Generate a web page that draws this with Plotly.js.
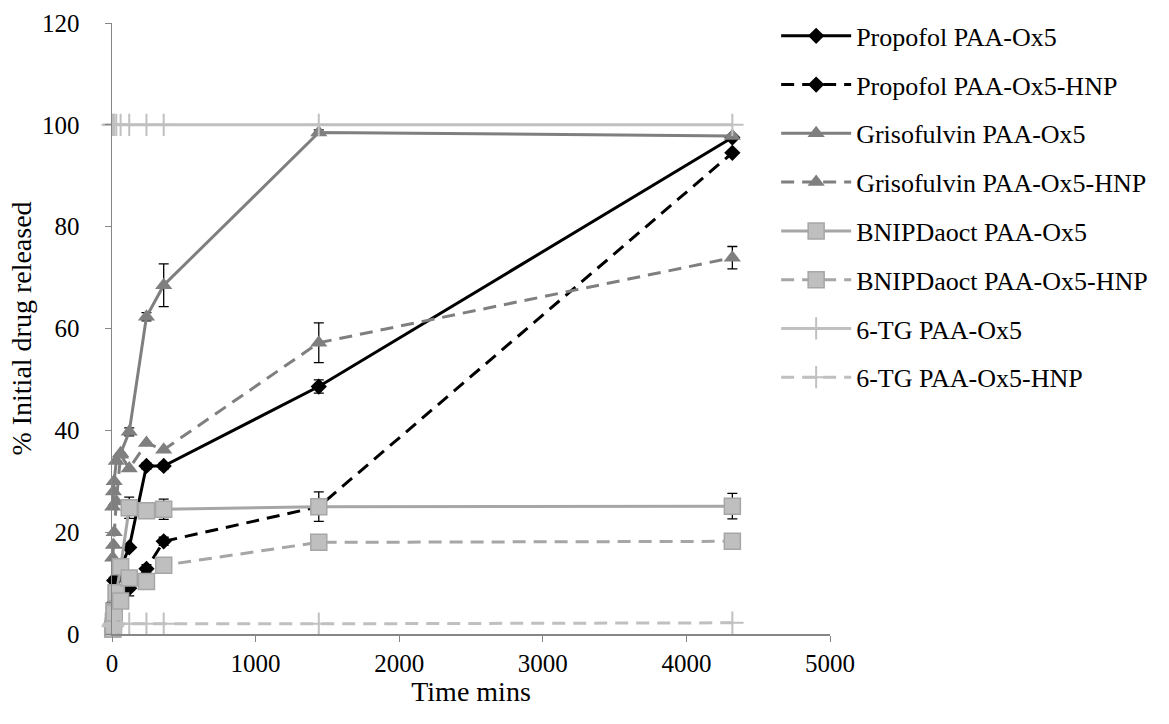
<!DOCTYPE html>
<html><head><meta charset="utf-8">
<script src="https://cdn.plot.ly/plotly-3.0.1.min.js"></script>
<style>body{margin:0;background:#fff}#c{width:1169px;height:724px}</style>
</head><body><div id="c"></div>
<script>
const timeMins = [5, 10, 15, 30, 60, 120, 240, 360, 1440, 4320];
const propofolPAA = [3, 6, 10.5, 11, 13, 17, 33, 33, 48.6, 97.5];
const propofolPAAErr = [0, 0, 0, 0, 0, 0, 0.6, 0.6, 1.3, 0];
const propofolHNP = [1.5, 3, 5.5, 7.5, 8.2, 9.0, 12.8, 18.2, 25, 94.5];
const propofolHNPErr = [0, 0, 0, 0, 0, 1.5, 0.8, 0.8, 0, 0];
const grisoPAA = [25, 28, 30, 34, 35.5, 39.7, 62.3, 68.5, 98.5, 97.8];
const grisoPAAErr = [0, 0, 0, 0, 0, 0.8, 0.8, 4.2, 0.5, 0];
const grisoHNP = [15, 17.5, 20, 26, 35.2, 32.5, 37.5, 36.2, 57.2, 73.9];
const grisoHNPErr = [0, 0, 0, 0, 0, 0, 0, 0, 3.9, 2.2];
const bnipPAA = [1, 2.5, 4.5, 8, 13.2, 24.8, 24.2, 24.5, 25, 25.1];
const bnipPAAErr = [0, 0, 0, 0, 0, 2.1, 0, 2.0, 2.9, 2.5];
const bnipHNP = [1, 1.5, 4.1, 8.1, 6.5, 11, 10.3, 13.5, 18, 18.2];
const tgPAA = [100, 100, 100, 100, 100, 100, 100, 100, 100, 100];
const tgHNP = [1.5, 1.8, 2, 2, 2, 2, 2, 2, 2, 2.2];
const seriesNames = ["Propofol PAA-Ox5","Propofol PAA-Ox5-HNP","Grisofulvin PAA-Ox5","Grisofulvin PAA-Ox5-HNP","BNIPDaoct PAA-Ox5","BNIPDaoct PAA-Ox5-HNP","6-TG PAA-Ox5","6-TG PAA-Ox5-HNP"];
const xTicks = [0, 1000, 2000, 3000, 4000, 5000];
const yTicks = [0, 20, 40, 60, 80, 100, 120];

const FAM = 'Liberation Serif';
const DASH = "13px,8px";
function err(a){ return {type:'data', array:a, visible:true, color:'#000', thickness:1.3, width:5}; }
function legName(i){ return i === 0 ? 'legend' : 'legend' + (i + 1); }
function tr(i, y, color, dash, marker, e){
  const t = {x: timeMins, y: y, name: seriesNames[i], type:'scatter', mode:'lines+markers',
    line:{color:color, width:3, dash:dash}, marker:marker, cliponaxis:false,
    legend: legName(i)};
  if (e) t.error_y = err(e);
  return t;
}
const diamond = {symbol:'diamond', size:12.5, color:'#000'};
const tri = {symbol:'triangle-up', size:15, color:'#7f7f7f'};
const sq = {symbol:'square', size:16, color:'#bfbfbf', line:{color:'#a6a6a6', width:1.5}};
const crossH = {symbol:'cross-thin', size:16, color:'#c0c0c0', line:{color:'#c0c0c0', width:2}};

const data = [
  tr(0, propofolPAA, '#000', 'solid', diamond, propofolPAAErr),
  tr(1, propofolHNP, '#000', DASH, diamond, propofolHNPErr),
  tr(2, grisoPAA, '#7f7f7f', 'solid', tri, grisoPAAErr),
  tr(3, grisoHNP, '#7f7f7f', DASH, tri, grisoHNPErr),
  tr(4, bnipPAA, '#a6a6a6', 'solid', sq, bnipPAAErr),
  tr(5, bnipHNP, '#a6a6a6', DASH, sq, null),
  tr(6, tgPAA, '#c0c0c0', 'solid', crossH, null),
  tr(7, tgHNP, '#c0c0c0', DASH, crossH, null)
];
const layout = {
  width:1169, height:724,
  margin:{l:112, r:339, t:20, b:90},
  paper_bgcolor:'#fff', plot_bgcolor:'#fff',
  showlegend:true,
  font:{family:FAM, size:25, color:'#000'},
  xaxis:{range:[0,5000], tickvals:xTicks, ticktext:xTicks.map(String), showgrid:false, zeroline:false,
    showline:true, linecolor:'#868686', linewidth:1.5, ticks:'outside', ticklen:6, tickcolor:'#868686',
    tickfont:{family:FAM, size:25, color:'#000'},
    title:{text:'Time mins', font:{family:FAM, size:28, color:'#000'}, standoff:6}},
  yaxis:{range:[0,120], tickvals:yTicks, ticktext:yTicks.map(String), showgrid:false, zeroline:false,
    showline:true, linecolor:'#868686', linewidth:1.5, ticks:'outside', ticklen:6, tickcolor:'#868686',
    ticklabelstandoff:20,
    tickfont:{family:FAM, size:25, color:'#000'},
    title:{text:'% Initial drug released', font:{family:FAM, size:28, color:'#000'}, standoff:2}}
};
const legendRowsPx = [33, 82, 131, 180, 229, 278, 327, 376];
for (let i = 0; i < 8; i++) {
  layout[legName(i)] = {x:0.925, y:(634 - legendRowsPx[i]) / 614, xanchor:'left', yanchor:'middle',
    font:{family:FAM, size:26, color:'#000'}, bgcolor:'rgba(0,0,0,0)', itemwidth:70};
}
Plotly.newPlot('c', data, layout, {displayModeBar:false, staticPlot:true});
</script></body></html>
